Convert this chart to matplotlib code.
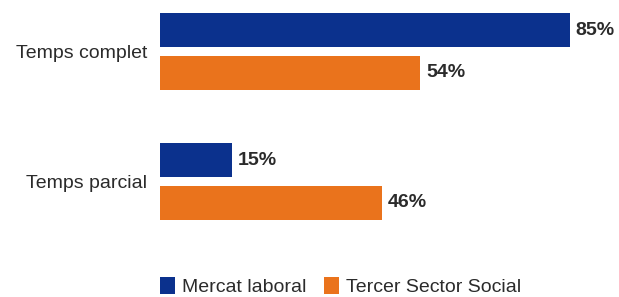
import numpy as np
import matplotlib

matplotlib.use("Agg")
import matplotlib.pyplot as plt  # noqa: E402

categories = ["Temps complet", "Temps parcial"]
series = ["Mercat laboral", "Tercer Sector Social"]
mercat = [85, 15]
tercer = [54, 46]

BLUE = "#0B318D"
ORANGE = "#EA731C"
TXT = "#2b2b2b"

plt.rcParams["font.family"] = ["Liberation Sans", "DejaVu Sans"]

W, H = 619, 297
fig = plt.figure(figsize=(W / 100, H / 100), dpi=100)
# axes spans x px 160 -> 642 (0..100 %), y px 0 -> 260
ax = fig.add_axes([160 / W, 1 - 260 / H, 482 / W, 260 / H])
ax.set_xlim(0, 100)
ax.set_ylim(1.604, -0.396)

y = np.arange(len(categories))
off, h = 0.165, 0.265
b1 = ax.barh(y - off, mercat, height=h, color=BLUE, label=series[0])
b2 = ax.barh(y + off, tercer, height=h, color=ORANGE, label=series[1])

for bars, vals in ((b1, mercat), (b2, tercer)):
    for bar, v in zip(bars, vals):
        ax.text(bar.get_width() + 1.2, bar.get_y() + bar.get_height() / 2, f"{v}%",
                va="center", ha="left", fontsize=14, fontweight="bold", color=TXT,
                clip_on=False)

ax.set_yticks(y)
ax.set_yticklabels(categories, fontsize=14, color=TXT)
ax.tick_params(axis="y", length=0, pad=9)
ax.set_xticks([])
for sp in ax.spines.values():
    sp.set_visible(False)

fig.legend(handles=[b1, b2], labels=series, loc="center left",
           bbox_to_anchor=(160 / W, 1 - 286.5 / H), ncol=2, frameon=False,
           fontsize=14, handlelength=0.77, handleheight=1.0, handletextpad=0.36,
           columnspacing=0.93, borderpad=0, borderaxespad=0, labelcolor=TXT)

fig.savefig("out.png", dpi=100)
